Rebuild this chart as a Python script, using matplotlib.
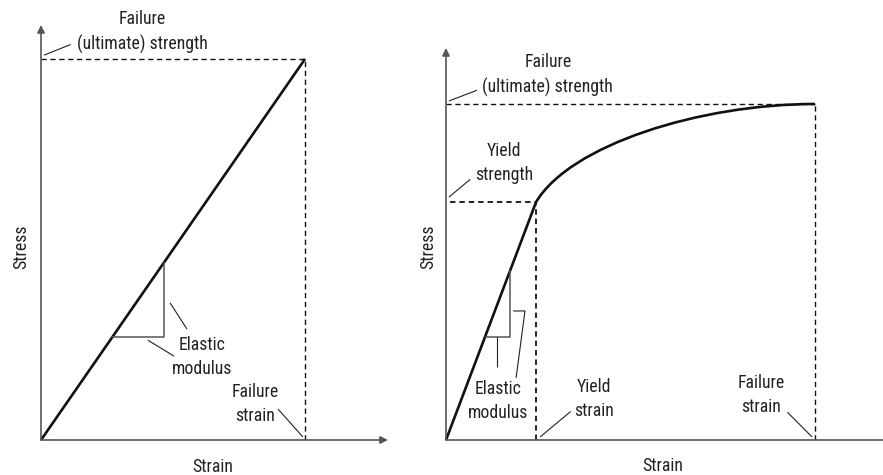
import matplotlib
matplotlib.use("Agg")
import matplotlib.pyplot as plt
from matplotlib import font_manager
from matplotlib.path import Path
from matplotlib.patches import PathPatch

# ---- data (normalised strain / stress; failure point = 1, 1) ----
left_strain = [0.0, 1.0]
left_stress = [0.0, 1.0]
left_fail_strain = 1.0
left_fail_stress = 1.0

# right curve: elastic line to yield, then a cubic Bezier (control points) to failure
right_elastic_strain = [0.0, 0.244]
right_elastic_stress = [0.0, 0.708]
right_plastic_ctrl_strain = [0.244, 0.336, 0.688, 1.0]
right_plastic_ctrl_stress = [0.708, 0.878, 1.0, 1.0]
yield_strain = 0.244
yield_stress = 0.708
right_fail_strain = 1.0
right_fail_stress = 1.0

# elastic-modulus slope triangles
left_tri_x = [0.27, 0.465, 0.465]
left_tri_y = [0.27, 0.27, 0.465]
right_tri_x = [0.108, 0.173, 0.173]
right_tri_y = [0.307, 0.307, 0.502]

# ---- pick a condensed sans if one is installed ----
def pick_font():
    cands = [('Liberation Sans Narrow', 'normal'), ('Roboto Condensed', 'normal'),
             ('DejaVu Sans', 'condensed'), ('Noto Sans', 'condensed'),
             ('Open Sans', 'condensed'), ('Roboto', 'condensed')]
    for fam, st in cands:
        try:
            p = font_manager.findfont(font_manager.FontProperties(family=fam, stretch=st),
                                      fallback_to_default=False)
        except Exception:
            continue
        low = p.lower()
        if 'narrow' in low or 'condensed' in low:
            return p
    return None

fpath = pick_font()
if fpath:
    font_manager.fontManager.addfont(fpath)
    fam_name = font_manager.FontProperties(fname=fpath).get_name()
    plt.rcParams['font.family'] = [fam_name, 'DejaVu Sans']
else:
    plt.rcParams['font.family'] = ['Roboto', 'DejaVu Sans']

TXT = '#222222'
AX = '#555555'
DASH = (3.8, 2.6)

fig = plt.figure(figsize=(8.83, 4.75), dpi=100)

# fit the font size so "(ultimate) strength" is ~130 px wide
r = fig.canvas.get_renderer()
tt = fig.text(0, 0, '(ultimate) strength', fontsize=10)
w = tt.get_window_extent(renderer=r).width
tt.remove()
FS = 10 * 130.0 / w
LS = 22.0 / (0.88 * FS * 100 / 72)

def make_axes(rect, xmax, ymax):
    ax = fig.add_axes(rect)
    ax.set_xlim(0, xmax)
    ax.set_ylim(0, ymax)
    ax.axis('off')
    arrow = dict(arrowstyle='-|>', lw=1.2, color=AX, mutation_scale=11,
                 shrinkA=0, shrinkB=0)
    ax.annotate('', xy=(0, ymax), xytext=(0, 0), arrowprops=arrow,
                annotation_clip=False)
    ax.annotate('', xy=(xmax, 0), xytext=(0, 0), arrowprops=arrow,
                annotation_clip=False)
    return ax

def leader(ax, xs, ys):
    ax.plot(xs, ys, color='#222222', lw=0.8, clip_on=False,
            solid_capstyle='butt')

def label(ax, x, y, s, **kw):
    ax.text(x, y, s, ha='center', va='center', fontsize=FS, color=TXT,
            linespacing=LS, clip_on=False, **kw)

# ---------------- left panel ----------------
axl = make_axes([41/883, 35/475, 347/883, 415/475], 347/264, 415/381)
axl.plot(left_strain, left_stress, color='#111111', lw=1.9,
         solid_capstyle='butt', clip_on=False)
axl.plot([0, left_fail_strain], [left_fail_stress, left_fail_stress],
         color='#111111', lw=1.0, dashes=DASH)
axl.plot([left_fail_strain, left_fail_strain], [0, left_fail_stress],
         color='#111111', lw=1.0, dashes=DASH)
axl.plot(left_tri_x, left_tri_y, color=AX, lw=1.1)

label(axl, 0.383, 1.071, 'Failure\n(ultimate) strength')
leader(axl, [0.011, 0.112], [1.010, 1.038])
label(axl, 0.610, 0.218, 'Elastic\nmodulus')
leader(axl, [0.489, 0.553], [0.360, 0.291])
leader(axl, [0.405, 0.504], [0.262, 0.220])
label(axl, 0.811, 0.094, 'Failure\nstrain')
leader(axl, [0.898, 0.992], [0.081, 0.008])
label(axl, -0.076, 0.507, 'Stress', rotation=90)
label(axl, 0.652, -0.071, 'Strain')

# ---------------- right panel ----------------
axr = make_axes([446/883, 35/475, 446/883, 392/475], 446/369, 392/336)
verts = list(zip(right_elastic_strain, right_elastic_stress)) + \
    list(zip(right_plastic_ctrl_strain[1:], right_plastic_ctrl_stress[1:]))
codes = [Path.MOVETO, Path.LINETO, Path.CURVE4, Path.CURVE4, Path.CURVE4]
axr.add_patch(PathPatch(Path(verts, codes), facecolor='none', edgecolor='#111111',
                        lw=1.9, joinstyle='miter', capstyle='butt', clip_on=False))
axr.plot([0, right_fail_strain], [right_fail_stress, right_fail_stress],
         color='#111111', lw=1.0, dashes=DASH)
axr.plot([right_fail_strain, right_fail_strain], [0, right_fail_stress],
         color='#111111', lw=1.0, dashes=DASH)
axr.plot([0.012, yield_strain], [yield_stress, yield_stress],
         color='#111111', lw=1.3, dashes=(3.0, 2.2))
axr.plot([yield_strain, yield_strain], [0, yield_stress],
         color='#111111', lw=1.3, dashes=(3.0, 2.2))
axr.plot(right_tri_x, right_tri_y, color=AX, lw=1.1)

label(axr, 0.276, 1.086, 'Failure\n(ultimate) strength')
leader(axr, [0.008, 0.084], [1.009, 1.041])
label(axr, 0.157, 0.824, 'Yield\nstrength')
leader(axr, [0.008, 0.066], [0.723, 0.776])
label(axr, 0.141, 0.116, 'Elastic\nmodulus')
leader(axr, [0.138, 0.138], [0.307, 0.217])
leader(axr, [0.182, 0.214, 0.190], [0.384, 0.384, 0.185])
label(axr, 0.401, 0.122, 'Yield\nstrain')
leader(axr, [0.255, 0.338], [0.009, 0.085])
label(axr, 0.854, 0.134, 'Failure\nstrain')
leader(axr, [0.925, 0.992], [0.083, 0.009])
label(axr, -0.048, 0.574, 'Stress', rotation=90)
label(axr, 0.588, -0.077, 'Strain')

fig.savefig('out.png', dpi=100)
